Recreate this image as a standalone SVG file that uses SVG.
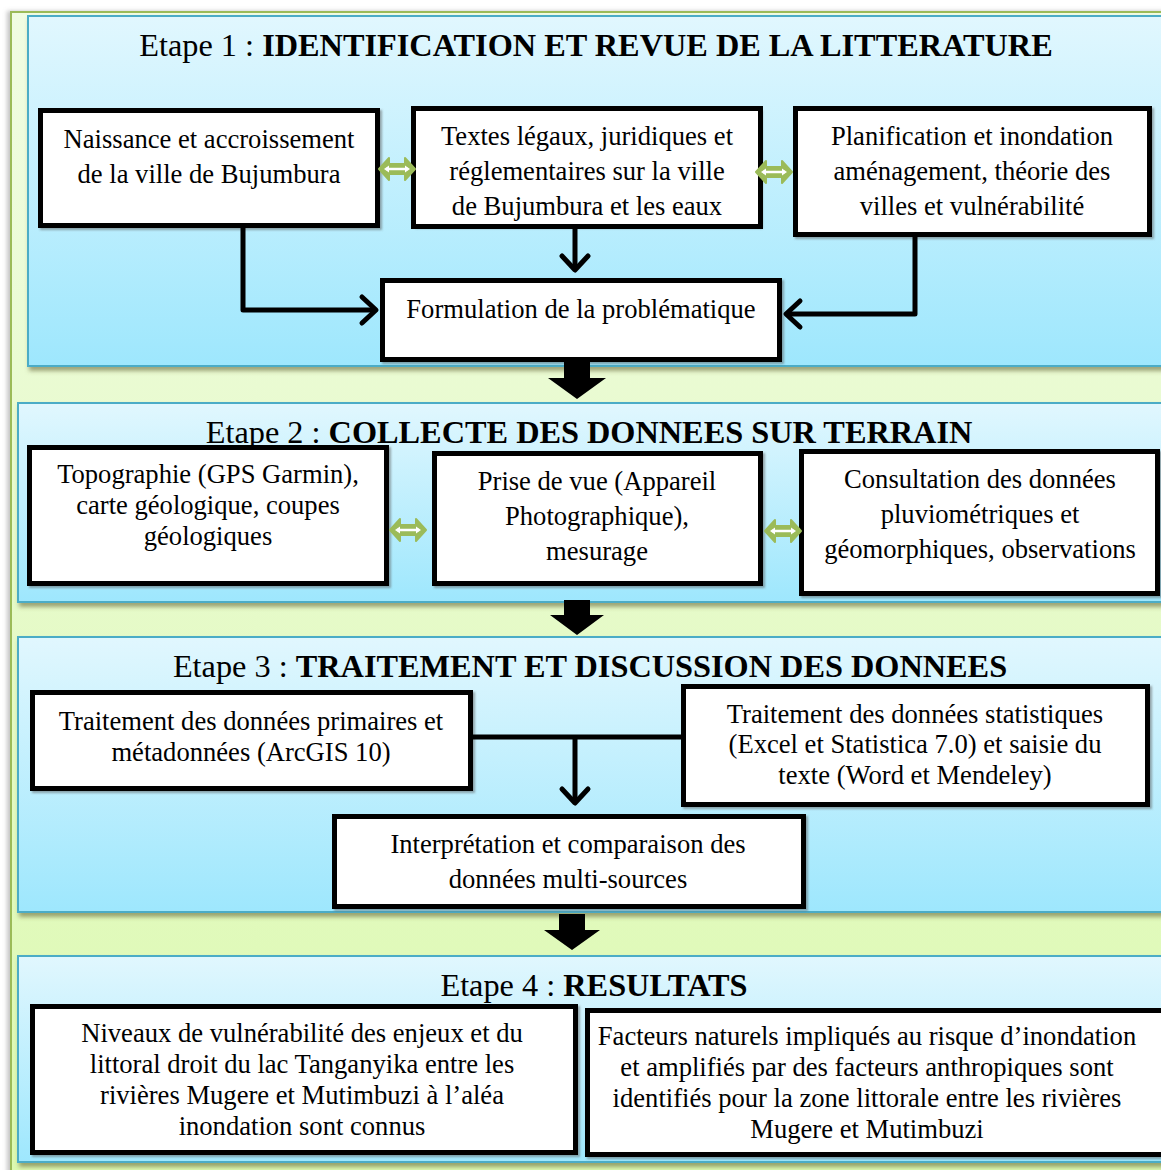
<svg xmlns="http://www.w3.org/2000/svg" width="1161" height="1170" viewBox="0 0 1161 1170">
<defs>
<style>
.box{fill:#fff;stroke:#000;stroke-width:5;filter:url(#bsh)}
.panel{stroke:#4bacc6;stroke-width:2;fill:url(#pg);filter:url(#psh)}
.t{font-family:"Liberation Serif","Times New Roman",serif;font-size:26.6px;fill:#000;text-anchor:middle}
.title{font-family:"Liberation Serif","Times New Roman",serif;font-size:32.3px;fill:#000;text-anchor:middle}
.title tspan.b{font-weight:bold}
.conn{fill:none;stroke:#000;stroke-width:5;stroke-linejoin:round}
.blk{fill:#000}
</style>
<linearGradient id="pg" x1="0" y1="0" x2="0" y2="1">
<stop offset="0" stop-color="#e1f7fe"/>
<stop offset="1" stop-color="#9ee7fd"/>
</linearGradient>
<linearGradient id="og" x1="0" y1="0" x2="0" y2="1">
<stop offset="0" stop-color="#f0fce2"/>
<stop offset="1" stop-color="#dcf9b0"/>
</linearGradient>
<filter id="psh" x="-5%" y="-5%" width="110%" height="120%">
<feDropShadow dx="2" dy="4" stdDeviation="2" flood-color="#6b6b3a" flood-opacity="0.6"/>
</filter>
<filter id="bsh" x="-5%" y="-5%" width="110%" height="115%">
<feDropShadow dx="2" dy="2" stdDeviation="1" flood-color="#555" flood-opacity="0.5"/>
</filter>
<filter id="osh" x="-5%" y="-5%" width="110%" height="110%">
<feDropShadow dx="-3" dy="0" stdDeviation="2" flood-color="#888" flood-opacity="0.5"/>
</filter>
<marker id="chev" markerUnits="userSpaceOnUse" markerWidth="40" markerHeight="40" viewBox="-20 -20 40 40" refX="0" refY="0" orient="auto">
<path d="M-14,-13 L0,0 L-14,13" fill="none" stroke="#000" stroke-width="5" stroke-linecap="round" stroke-linejoin="round"/>
</marker>
<g id="dbl">
<polygon points="-18,0 -8,-11 -8,-5 8,-5 8,-11 18,0 8,11 8,5 -8,5 -8,11" fill="#9bbb59" stroke="#9bbb59" stroke-width="2" stroke-linejoin="round"/>
<path d="M-11,0 H11" stroke="#fff" stroke-width="2.5"/>
<polygon points="-13,0 -8,-3.5 -8,3.5" fill="#fff"/>
<polygon points="13,0 8,-3.5 8,3.5" fill="#fff"/>
</g>
</defs>

<!-- outer background -->
<rect x="11" y="12" width="1160" height="1170" fill="url(#og)" stroke="#9bbb59" stroke-width="2" filter="url(#osh)"/>

<!-- panels -->
<g id="panel1"><rect class="panel" x="28" y="16" width="1150" height="350"/>
<text class="title" x="596" y="56">Etape 1 : <tspan class="b">IDENTIFICATION ET REVUE DE LA LITTERATURE</tspan></text></g>
<g id="panel2"><rect class="panel" x="18" y="403" width="1160" height="199"/>
<text class="title" x="589" y="443">Etape 2 : <tspan class="b">COLLECTE DES DONNEES SUR TERRAIN</tspan></text></g>
<g id="panel3"><rect class="panel" x="18" y="637" width="1160" height="275"/>
<text class="title" x="590" y="677">Etape 3 : <tspan class="b">TRAITEMENT ET DISCUSSION DES DONNEES</tspan></text></g>
<g id="panel4"><rect class="panel" x="18" y="956" width="1160" height="206"/>
<text class="title" x="594" y="996">Etape 4 : <tspan class="b">RESULTATS</tspan></text></g>

<!-- nodes -->
<g id="n-naissance"><rect class="box" x="40.5" y="110.5" width="337" height="115"/>
<text class="t" x="209" y="148">Naissance et accroissement</text>
<text class="t" x="209" y="183">de la ville de Bujumbura</text></g>

<g id="n-textes"><rect x="413.5" y="108.5" width="347" height="118" fill="#fff" filter="url(#bsh)"/>
<text class="t" x="587" y="145">Textes légaux, juridiques et</text>
<text class="t" x="587" y="180">réglementaires sur la ville</text>
<text class="t" x="587" y="215">de Bujumbura et les eaux</text>
<rect x="413.5" y="108.5" width="347" height="118" fill="none" stroke="#000" stroke-width="5"/></g>

<g id="n-planif"><rect class="box" x="795.5" y="108.5" width="354" height="126"/>
<text class="t" x="972" y="145">Planification et inondation</text>
<text class="t" x="972" y="180">aménagement, théorie des</text>
<text class="t" x="972" y="215">villes et vulnérabilité</text></g>

<g id="n-formulation"><rect class="box" x="382.5" y="280.5" width="397" height="79"/>
<text class="t" x="581" y="318">Formulation de la problématique</text></g>

<g id="n-topo"><rect class="box" x="29.5" y="447.5" width="357" height="136"/>
<text class="t" x="208" y="483">Topographie (GPS Garmin),</text>
<text class="t" x="208" y="514">carte géologique, coupes</text>
<text class="t" x="208" y="545">géologiques</text></g>

<g id="n-prise"><rect class="box" x="434.5" y="453.5" width="326" height="130"/>
<text class="t" x="597" y="490">Prise de vue (Appareil</text>
<text class="t" x="597" y="525">Photographique),</text>
<text class="t" x="597" y="560">mesurage</text></g>

<g id="n-consult"><rect class="box" x="801.5" y="451.5" width="356" height="142"/>
<text class="t" x="980" y="488">Consultation des données</text>
<text class="t" x="980" y="523">pluviométriques et</text>
<text class="t" x="980" y="558">géomorphiques, observations</text></g>

<g id="n-primaires"><rect class="box" x="32.5" y="692.5" width="438" height="96"/>
<text class="t" x="251" y="730">Traitement des données primaires et</text>
<text class="t" x="251" y="761">métadonnées (ArcGIS 10)</text></g>

<g id="n-stat"><rect class="box" x="683.5" y="686.5" width="464" height="118"/>
<text class="t" x="915" y="723">Traitement des données statistiques</text>
<text class="t" x="915" y="753">(Excel et Statistica 7.0) et saisie du</text>
<text class="t" x="915" y="784">texte (Word et Mendeley)</text></g>

<g id="n-interp"><rect class="box" x="334.5" y="816.5" width="469" height="90"/>
<text class="t" x="568" y="853">Interprétation et comparaison des</text>
<text class="t" x="568" y="888">données multi-sources</text></g>

<g id="n-niveaux"><rect class="box" x="32.5" y="1006.5" width="543" height="146"/>
<text class="t" x="302" y="1042">Niveaux de vulnérabilité des enjeux et du</text>
<text class="t" x="302" y="1073">littoral droit du lac Tanganyika entre les</text>
<text class="t" x="302" y="1104">rivières Mugere et Mutimbuzi à l’aléa</text>
<text class="t" x="302" y="1135">inondation sont connus</text></g>

<g id="n-facteurs"><rect class="box" x="587.5" y="1010.5" width="580" height="144"/>
<text class="t" x="867" y="1045">Facteurs naturels impliqués au risque d’inondation</text>
<text class="t" x="867" y="1076">et amplifiés par des facteurs anthropiques sont</text>
<text class="t" x="867" y="1107">identifiés pour la zone littorale entre les rivières</text>
<text class="t" x="867" y="1138">Mugere et Mutimbuzi</text></g>

<!-- connectors -->
<g id="connectors">
<path class="conn" d="M243,228 V310 H376" marker-end="url(#chev)"/>
<path class="conn" d="M575,229 V270" marker-end="url(#chev)"/>
<path class="conn" d="M915,237 V314 H786" marker-end="url(#chev)"/>
<path class="conn" d="M472,737 H682"/>
<path class="conn" d="M575,737 V803" marker-end="url(#chev)"/>
<use href="#dbl" x="397" y="169"/>
<use href="#dbl" x="774" y="172"/>
<use href="#dbl" x="408" y="530"/>
<use href="#dbl" x="783" y="531"/>
<polygon class="blk" points="564,362 590,362 590,378 606,378 577,399 548,378 564,378"/>
<polygon class="blk" points="564,600 590,600 590,615 604,615 577,635 550,615 564,615"/>
<polygon class="blk" points="559,914 585,914 585,930 600,930 572,950 544,930 559,930"/>
</g>
</svg>
